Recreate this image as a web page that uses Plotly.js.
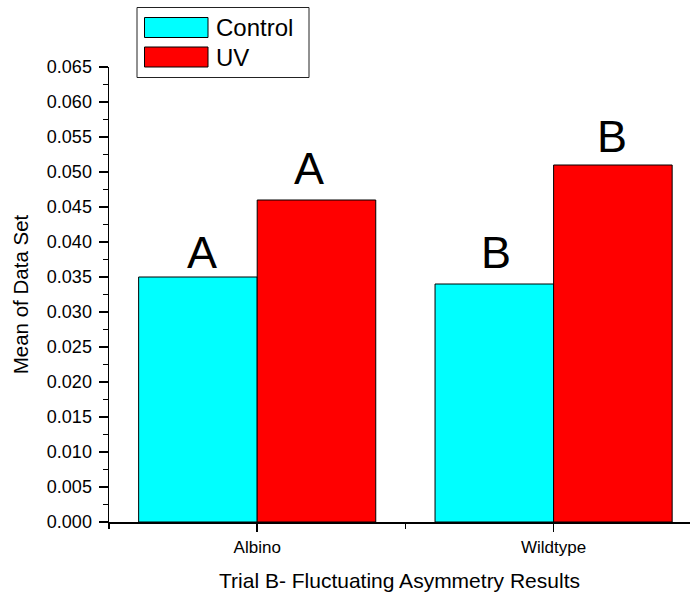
<!DOCTYPE html>
<html>
<head>
<meta charset="utf-8">
<script src="https://cdn.plot.ly/plotly-3.0.1.min.js"></script>
<style>html,body{margin:0;padding:0;background:#fff;overflow:hidden;}#chart{width:690px;height:595px;}</style>
</head>
<body>
<div id="chart"></div>
<script>
// ---- data ----
const categories = ["Albino", "Wildtype"];
const seriesNames = ["Control", "UV"];
const controlValues = [0.035, 0.034];
const uvValues = [0.046, 0.051];
const controlLetters = ["A", "B"];
const uvLetters = ["A", "B"];
const yTickValues = [0, 0.005, 0.01, 0.015, 0.02, 0.025, 0.03, 0.035, 0.04, 0.045, 0.05, 0.055, 0.06, 0.065];

// ---- styles / layout helpers ----
const FONT = "Liberation Sans, Arial, Helvetica, sans-serif";
const colors = ["#00FFFF", "#FF0000"];
const W = 690, H = 595;
const M = {l: 109, r: 0, t: 67, b: 73};
const px = x => (x - M.l) / (W - M.l - M.r);
const py = y => (H - M.b - y) / (H - M.t - M.b);
// letter offsets (pixels above bar top, small x shifts)
const letterShiftY = [[25, 32], [32, 29]]; // [category][series]
const letterShiftX = [[4, -7], [2, -1]];

const xIdx = categories.map((c, i) => i);
const allValues = [controlValues, uvValues];
const allLetters = [controlLetters, uvLetters];

const traces = seriesNames.map((name, s) => ({
  type: "bar",
  name: name,
  x: xIdx,
  y: allValues[s],
  marker: {color: colors[s], line: {color: "#000000", width: 1}},
  hoverinfo: "x+y"
}));

const annotations = [];
categories.forEach((c, i) => {
  seriesNames.forEach((n, s) => {
    annotations.push({
      x: i + (s - 0.5) * 0.4, y: allValues[s][i], xref: "x", yref: "y",
      text: allLetters[s][i], showarrow: false,
      xanchor: "center", yanchor: "middle",
      yshift: letterShiftY[i][s], xshift: letterShiftX[i][s],
      font: {family: FONT, size: 45, color: "#000"}
    });
  });
});

// custom legend (box, swatches, labels)
const shapes = [
  {type: "rect", xref: "paper", yref: "paper", x0: px(137), x1: px(309), y0: py(7.5), y1: py(77.5),
   line: {color: "#222", width: 1}, fillcolor: "rgba(0,0,0,0)"}
];
const swatchRows = [27.5, 57];
seriesNames.forEach((n, s) => {
  shapes.push({type: "rect", xref: "paper", yref: "paper",
    x0: px(144.5), x1: px(208), y0: py(swatchRows[s] - 10), y1: py(swatchRows[s] + 10),
    line: {color: "#000", width: 1}, fillcolor: colors[s]});
  annotations.push({xref: "paper", yref: "paper", x: px(214), y: py(swatchRows[s]),
    xanchor: "left", yanchor: "middle", showarrow: false, text: n,
    font: {family: FONT, size: 24, color: "#000"}});
});

const layout = {
  width: W, height: H,
  margin: M,
  paper_bgcolor: "#fff", plot_bgcolor: "#fff",
  font: {family: FONT, color: "#000"},
  showlegend: false,
  barmode: "group", bargap: 0.2, bargroupgap: 0,
  xaxis: {
    type: "linear",
    range: [-0.5, -0.5 + (W - M.l - M.r) / 296.4],
    tickmode: "array", tickvals: xIdx, ticktext: categories,
    ticks: "outside", ticklen: 8, tickwidth: 1.5, tickcolor: "#000",
    showline: true, linecolor: "#000", linewidth: 1.5,
    showgrid: false, zeroline: false,
    tickfont: {family: FONT, size: 17, color: "#000"},
    ticklabelstandoff: 1,
    minor: {tickmode: "array", tickvals: [-0.5, 0.5], ticks: "outside", ticklen: 5, tickwidth: 1.5, tickcolor: "#000", showgrid: false},
    title: {text: "Trial B- Fluctuating Asymmetry Results", font: {family: FONT, size: 21, color: "#000"}, standoff: 17}
  },
  yaxis: {
    range: [0, 0.065],
    tickmode: "array", tickvals: yTickValues, tickformat: ".3f",
    ticks: "outside", ticklen: 9, tickwidth: 1.5, tickcolor: "#000",
    showline: true, linecolor: "#000", linewidth: 1.5,
    showgrid: false, zeroline: false,
    tickfont: {family: FONT, size: 18, color: "#000"},
    ticklabelstandoff: 3,
    minor: {dtick: 0.0025, tick0: 0, ticks: "outside", ticklen: 4.5, tickwidth: 1.5, tickcolor: "#000", showgrid: false},
    title: {text: "Mean of Data Set", font: {family: FONT, size: 20.5, color: "#000"}, standoff: 12}
  },
  annotations: annotations,
  shapes: shapes
};

Plotly.newPlot("chart", traces, layout, {displayModeBar: false, staticPlot: true});
</script>
</body>
</html>
